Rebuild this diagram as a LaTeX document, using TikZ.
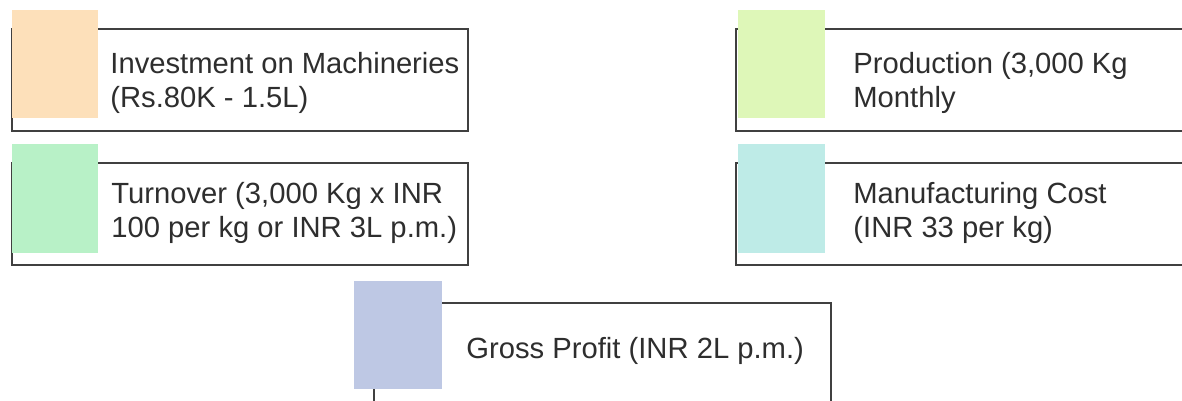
\documentclass[tikz,border=0pt]{standalone}
\usepackage{fontspec}
\setmainfont{Liberation Sans}
\usepackage{xcolor}
\usetikzlibrary{fit}

\definecolor{peach}{HTML}{FDE0BA}
\definecolor{lime}{HTML}{DEF7B8}
\definecolor{mint}{HTML}{B8F1C7}
\definecolor{aqua}{HTML}{BEEBE7}
\definecolor{lavender}{HTML}{BEC8E4}
\definecolor{ink}{HTML}{2E2E2E}
\definecolor{rim}{HTML}{404040}

\begin{document}
\begin{tikzpicture}[
    x=0.5pt, y=-0.5pt,
    frame/.style={draw=rim, line width=0.75pt, inner sep=0pt, fill=white},
    tile/.style={inner sep=0pt, draw=none},
    itemtext/.style={anchor=west, inner sep=0pt, align=left, text=ink,
                     font=\fontsize{14.6}{16.6}\selectfont}
]
\useasboundingbox (0,0) rectangle (1182,401);
\clip (0,0) rectangle (1182,401);

% top row
\node[frame, fit={(12,29) (468,131)}]           (invFrame)  {};
\node[tile, fill=peach, fit={(12,10) (98,118)}]  (invTile)   {};
\node[itemtext] (invText) at (110,83) {Investment on Machineries\\(Rs.80K - 1.5L)};

\node[frame, fit={(736,29) (1200,131)}]          (prodFrame) {};
\node[tile, fill=lime, fit={(738,10) (825,118)}] (prodTile)  {};
\node[itemtext] (prodText) at (853,83) {Production (3,000 Kg\\Monthly};

% middle row
\node[frame, fit={(12,163) (468,265)}]           (turnFrame) {};
\node[tile, fill=mint, fit={(12,144) (98,253)}]  (turnTile)  {};
\node[itemtext] (turnText) at (111,213) {Turnover (3,000 Kg x INR\\100 per kg or INR 3L p.m.)};

\node[frame, fit={(736,163) (1200,265)}]          (costFrame) {};
\node[tile, fill=aqua, fit={(738,144) (825,253)}] (costTile)  {};
\node[itemtext] (costText) at (853,213) {Manufacturing Cost\\(INR 33 per kg)};

% bottom
\node[frame, fit={(374,303) (831,430)}]               (grossFrame) {};
\node[tile, fill=lavender, fit={(354,281) (442,389)}] (grossTile)  {};
\node[itemtext] (grossText) at (466,351) {Gross Profit (INR 2L p.m.)};

\end{tikzpicture}
\end{document}
